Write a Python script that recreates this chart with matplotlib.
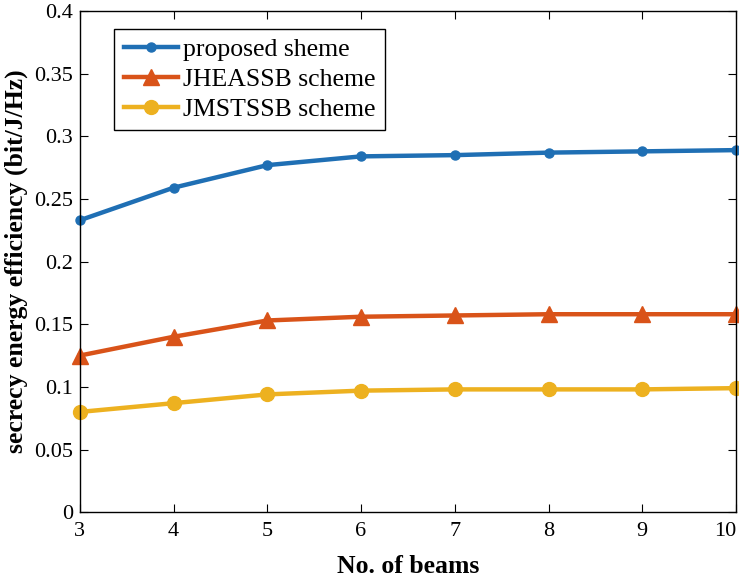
import matplotlib.pyplot as plt

# number of beams
beams = [3, 4, 5, 6, 7, 8, 9, 10]

# secrecy energy efficiency (bit/J/Hz)
proposed = [0.233, 0.259, 0.277, 0.284, 0.285, 0.287, 0.288, 0.289]
jheassb = [0.125, 0.140, 0.153, 0.156, 0.157, 0.158, 0.158, 0.158]
jmstssb = [0.080, 0.087, 0.094, 0.097, 0.098, 0.098, 0.098, 0.099]

plt.rcParams['font.family'] = ['Liberation Serif', 'DejaVu Serif']
plt.rcParams['mathtext.fontset'] = 'stix'

fig = plt.figure(figsize=(7.39, 5.82), dpi=100)
ax = fig.add_axes([0.108, 0.12, 0.888, 0.861])

ax.plot(beams, proposed, marker='o', markersize=6.5, linewidth=3.2,
        color='#1f6fb4', label='proposed sheme', clip_on=False)
ax.plot(beams, jheassb, marker='^', markersize=11, linewidth=3.2,
        color='#d95319', label='JHEASSB scheme', clip_on=False)
ax.plot(beams, jmstssb, marker='o', markersize=10, linewidth=3.2,
        color='#edb120', label='JMSTSSB scheme', clip_on=False)

ax.set_xlim(3, 10)
ax.set_ylim(0, 0.4)
ax.set_xticks(beams)
ax.set_yticks([0, 0.05, 0.1, 0.15, 0.2, 0.25, 0.3, 0.35, 0.4])
ax.set_yticklabels(['0', '0.05', '0.1', '0.15', '0.2', '0.25', '0.3', '0.35', '0.4'])
ax.tick_params(direction='in', top=True, right=True, labelsize=16, length=6, width=0.8)
ax.tick_params(axis='x', pad=7)
ax.tick_params(axis='y', pad=5)
for s in ax.spines.values():
    s.set_linewidth(1.0)
# last x label sits flush with the right edge, as in the original
ax.get_xticklabels()[-1].set_horizontalalignment('right')

ax.set_xlabel('No. of beams', fontsize=18.5, fontweight='bold', labelpad=10)
ax.set_ylabel('secrecy energy efficiency (bit/J/Hz)', fontsize=18.5, fontweight='bold',
              labelpad=4)

leg = ax.legend(loc='upper left', bbox_to_anchor=(0.052, 0.965), fontsize=18.5,
                fancybox=False, edgecolor='black', framealpha=1, borderaxespad=0,
                handlelength=2.1, handletextpad=0.2, borderpad=0.38, labelspacing=0.26)
leg.get_frame().set_linewidth(1.0)

fig.savefig('out.png', dpi=100)
